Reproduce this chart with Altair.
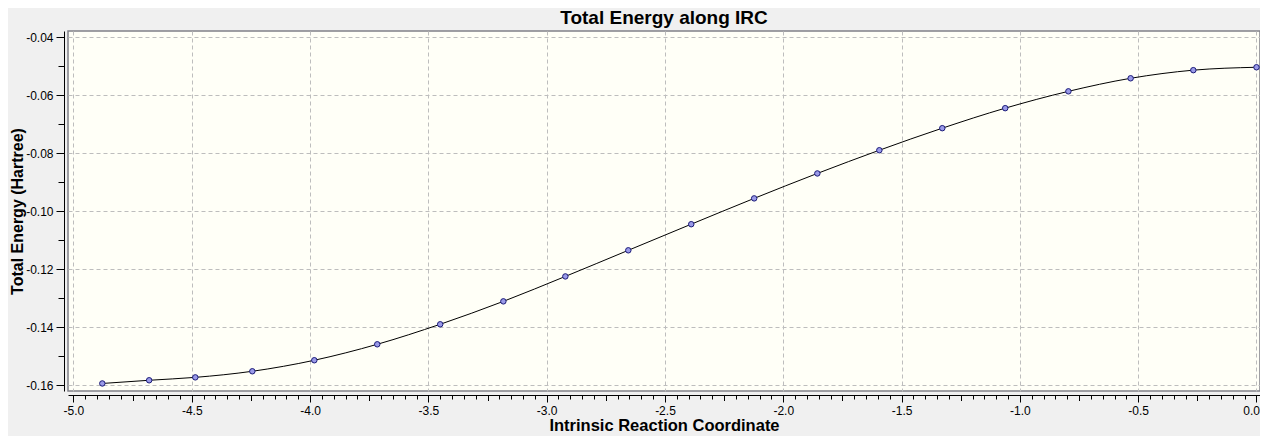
import altair as alt
import pandas as pd

# IRC points
irc = [-4.878, -4.680, -4.485, -4.244, -3.982, -3.716, -3.450, -3.183, -2.921, -2.655,
       -2.389, -2.123, -1.856, -1.594, -1.328, -1.062, -0.795, -0.532, -0.267, 0.0]
energy = [-0.1593, -0.1582, -0.1572, -0.1551, -0.1513, -0.1458, -0.1389, -0.1310, -0.1224, -0.1134,
          -0.1044, -0.0955, -0.0869, -0.0789, -0.0713, -0.0644, -0.0586, -0.0541, -0.0513, -0.0503]

x_major = [-5.0, -4.5, -4.0, -3.5, -3.0, -2.5, -2.0, -1.5, -1.0, -0.5, 0.0]
x_mid = [-4.75, -4.25, -3.75, -3.25, -2.75, -2.25, -1.75, -1.25, -0.75, -0.25]
x_minor = [round(-5.0 + 0.05 * i, 2) for i in range(101)]
y_major = [-0.16, -0.14, -0.12, -0.10, -0.08, -0.06, -0.04]
y_minor = [-0.15, -0.13, -0.11, -0.09, -0.07, -0.05]

df = pd.DataFrame({"irc": irc, "energy": energy})

FONT = "Liberation Sans"
xs = alt.Scale(domain=[-5.023, 0.0148], nice=False, zero=False)
ys = alt.Scale(domain=[-0.1619, -0.0378], nice=False, zero=False)

line = alt.Chart(df).mark_line(color="black", strokeWidth=1, interpolate="monotone").encode(
    x=alt.X("irc:Q", scale=xs, axis=alt.Axis(
        values=x_major, orient="bottom", title="Intrinsic Reaction Coordinate",
        labelExpr="replace(format(datum.value, '.1f'), '\u2212', '-')",
        labelFlush=4, labelFlushOffset=3,
        tickSize=7, grid=True, offset=4, labelPadding=3, titlePadding=1)),
    y=alt.Y("energy:Q", scale=ys, axis=alt.Axis(
        values=y_major, orient="left", title="Total Energy (Hartree)",
        labelExpr="replace(format(datum.value, '.2f'), '\u2212', '-')",
        tickSize=8, grid=True, offset=4, labelPadding=3, titlePadding=0,
        titleFontSize=16)),
)

pts = alt.Chart(df).mark_circle(size=30, color="#9a9ae8", stroke="#1a1a78",
                                strokeWidth=1, opacity=1).encode(
    x=alt.X("irc:Q", scale=xs, axis=alt.Axis(
        values=x_minor, orient="bottom", labels=False, tickSize=4, grid=False,
        domain=False, title=None, offset=4)),
    y=alt.Y("energy:Q", scale=ys, axis=alt.Axis(
        values=y_minor, orient="left", labels=False, tickSize=6, grid=False,
        domain=False, title=None, offset=4)),
)

mid = alt.Chart(df).mark_circle(opacity=0).encode(
    x=alt.X("irc:Q", scale=xs, axis=alt.Axis(
        values=x_mid, orient="bottom", labels=False, tickSize=5.5, grid=False,
        domain=False, title=None, offset=4)),
    y=alt.Y("energy:Q", scale=ys, axis=None),
)

chart = alt.layer(line, pts, mid).resolve_axis(
    x="independent", y="independent"
).properties(
    width=1192, height=360,
    autosize=alt.AutoSizeParams(type="none"),
    padding={"left": 60, "top": 23, "right": 0, "bottom": 45},
    background="#f0f0f0",
    title=alt.TitleParams("Total Energy along IRC", font=FONT, fontSize=19,
                          fontWeight="bold", color="black", anchor="middle", offset=3),
).configure_view(
    stroke="#808088", strokeWidth=1.5, fill="#fffff7"
).configure_axis(
    gridColor="#bdbdbd", gridDash=[4, 3], gridWidth=1,
    domainColor="black", domainWidth=1, tickColor="black", tickWidth=1,
    labelFont=FONT, labelFontSize=12, labelColor="black",
    titleFont=FONT, titleFontSize=16.5, titleFontWeight="bold", titleColor="black",
)

chart.save("out.html", embed_options={"renderer": "svg", "actions": False})
